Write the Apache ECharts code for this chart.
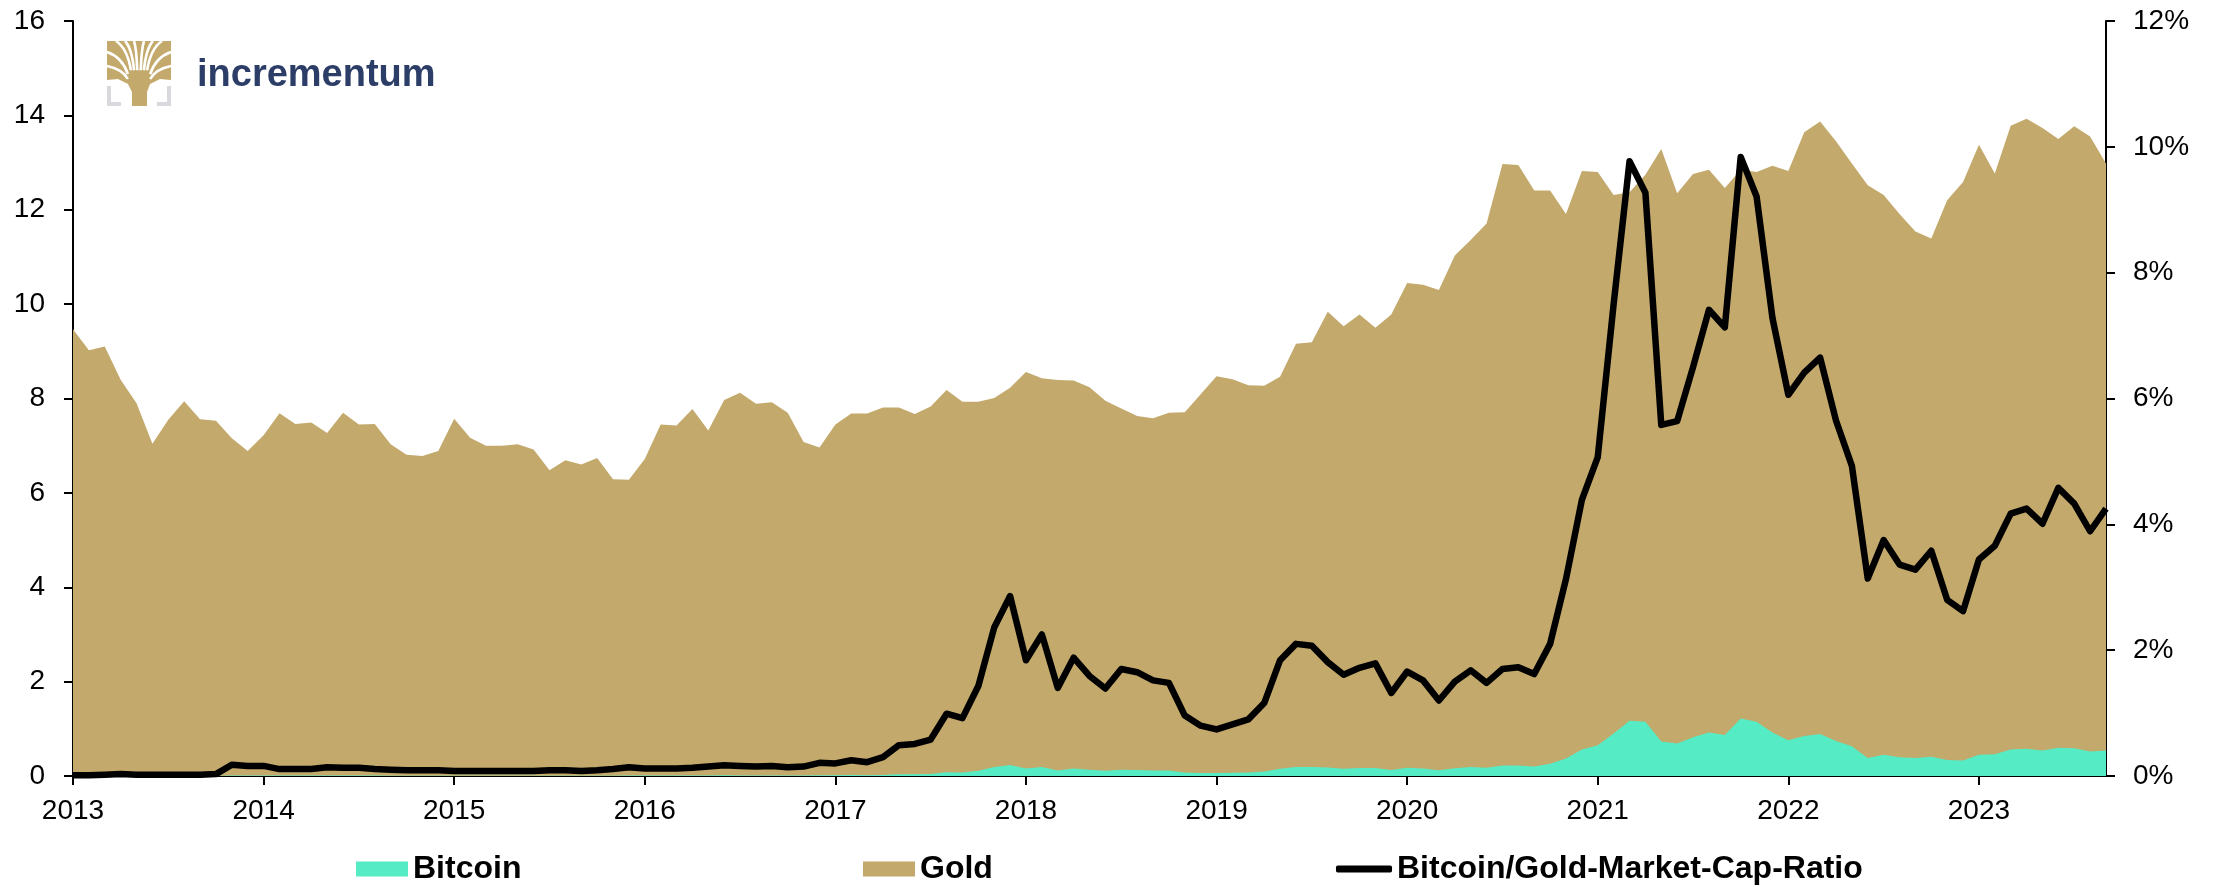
<!DOCTYPE html>
<html>
<head>
<meta charset="utf-8">
<script src="https://cdn.jsdelivr.net/npm/echarts@6/dist/echarts.min.js"></script>
<style>
  html, body { margin: 0; padding: 0; background: #fff; }
  #main { width: 2216px; height: 887px; }
</style>
</head>
<body>
<div id="main"></div>
<script>
// monthly, 2013-01 .. 2023-09
const firstYear = 2013;
const lastYear = 2023;
const lastMonth = 9;

// gold market cap, USD trn
const goldCap = [
  9.47, 9.02, 9.10, 8.40, 7.90, 7.04, 7.55, 7.94, 7.56, 7.53, 7.16, 6.89,
  7.22, 7.69, 7.46, 7.49, 7.27, 7.70, 7.45, 7.46, 7.03, 6.81, 6.78, 6.89,
  7.57, 7.17, 7.00, 7.00, 7.03, 6.92, 6.48, 6.69, 6.60, 6.74, 6.29, 6.28,
  6.72, 7.45, 7.43, 7.78, 7.32, 7.97, 8.12, 7.89, 7.92, 7.70, 7.08, 6.96,
  7.45, 7.68, 7.68, 7.81, 7.81, 7.67, 7.83, 8.18, 7.93, 7.93, 8.01, 8.23,
  8.56, 8.43, 8.39, 8.38, 8.24, 7.95, 7.79, 7.63, 7.58, 7.70, 7.71, 8.09,
  8.47, 8.41, 8.28, 8.27, 8.46, 9.16, 9.19, 9.84, 9.53, 9.78, 9.50, 9.78,
  10.45, 10.41, 10.30, 11.03, 11.36, 11.71, 12.97, 12.95, 12.41, 12.41, 11.91, 12.82,
  12.80, 12.31, 12.37, 12.74, 13.29, 12.35, 12.76, 12.85, 12.46, 12.85, 12.80, 12.93,
  12.82, 13.64, 13.87, 13.45, 12.98, 12.52, 12.31, 11.91, 11.54, 11.39, 12.20, 12.59,
  13.38, 12.77, 13.78, 13.93, 13.73, 13.50, 13.77, 13.55, 12.98
];

// bitcoin market cap, USD trn
const bitcoinCap = [
  0.001, 0.001, 0.002, 0.002, 0.001, 0.001, 0.001, 0.002, 0.002, 0.002, 0.013, 0.011,
  0.012, 0.008, 0.008, 0.008, 0.010, 0.010, 0.010, 0.008, 0.007, 0.006, 0.006, 0.006,
  0.006, 0.006, 0.006, 0.006, 0.006, 0.006, 0.006, 0.006, 0.005, 0.006, 0.007, 0.009,
  0.008, 0.009, 0.009, 0.010, 0.011, 0.014, 0.013, 0.012, 0.013, 0.011, 0.011, 0.015,
  0.015, 0.019, 0.017, 0.023, 0.038, 0.039, 0.045, 0.081, 0.073, 0.113, 0.189, 0.235,
  0.158, 0.190, 0.117, 0.158, 0.131, 0.111, 0.132, 0.126, 0.115, 0.114, 0.074, 0.065,
  0.063, 0.069, 0.075, 0.096, 0.156, 0.192, 0.190, 0.178, 0.153, 0.168, 0.170, 0.129,
  0.173, 0.158, 0.124, 0.165, 0.191, 0.173, 0.220, 0.224, 0.201, 0.261, 0.373, 0.563,
  0.65, 0.90, 1.17, 1.15, 0.73, 0.69, 0.82, 0.92, 0.87, 1.22, 1.15, 0.92,
  0.76, 0.85, 0.89, 0.74, 0.63, 0.38, 0.45, 0.40, 0.38, 0.41, 0.34, 0.33,
  0.45, 0.46, 0.56, 0.58, 0.54, 0.60, 0.59, 0.52, 0.54
];

// bitcoin / gold market cap ratio, %
const ratioPct = [
  0.01, 0.01, 0.02, 0.03, 0.02, 0.02, 0.02, 0.02, 0.02, 0.03, 0.18, 0.16,
  0.16, 0.11, 0.11, 0.11, 0.14, 0.13, 0.13, 0.11, 0.10, 0.09, 0.09, 0.09,
  0.08, 0.08, 0.08, 0.08, 0.08, 0.08, 0.09, 0.09, 0.08, 0.09, 0.11, 0.14,
  0.12, 0.12, 0.12, 0.13, 0.15, 0.17, 0.16, 0.15, 0.16, 0.14, 0.15, 0.21,
  0.20, 0.25, 0.22, 0.30, 0.49, 0.51, 0.58, 0.99, 0.92, 1.43, 2.36, 2.86,
  1.84, 2.25, 1.40, 1.88, 1.59, 1.39, 1.70, 1.65, 1.52, 1.48, 0.96, 0.80,
  0.74, 0.82, 0.90, 1.16, 1.84, 2.10, 2.07, 1.81, 1.61, 1.72, 1.79, 1.32,
  1.66, 1.52, 1.20, 1.50, 1.68, 1.48, 1.70, 1.73, 1.62, 2.10, 3.13, 4.39,
  5.07, 7.50, 9.77, 9.27, 5.58, 5.64, 6.50, 7.41, 7.13, 9.84, 9.21, 7.28,
  6.06, 6.41, 6.65, 5.65, 4.93, 3.14, 3.75, 3.36, 3.28, 3.58, 2.80, 2.62,
  3.44, 3.66, 4.17, 4.25, 4.01, 4.58, 4.33, 3.89, 4.25
];

const months = [];
for (let y = firstYear; y <= lastYear; y++) {
  for (let m = 1; m <= 12; m++) {
    if (y === lastYear && m > lastMonth) break;
    months.push(y + "-" + (m < 10 ? "0" + m : m));
  }
}

const GOLD = "#c3a96b";
const TEAL = "#55ebc5";
const FONT = "Liberation Sans, Arial, sans-serif";

const chart = echarts.init(document.getElementById("main"));

const axisLabelStyle = { color: "#000", fontSize: 28, fontFamily: FONT };
const legendText = { color: "#000", fontSize: 32, fontWeight: "bold", fontFamily: FONT };
const isJanuary = function (idx) { return idx % 12 === 0; };

// tree logo: gold crown with white gaps, trunk, grey brackets
const treeTop = [139, 86];
const gapEnds = [
  [107, 52], [107, 66], [116, 41], [125, 41], [134, 41],
  [144, 41], [153, 41], [162, 41], [171, 52], [171, 66]
];
const logo = [
  {
    type: "polygon",
    shape: {
      points: [[107, 41], [171, 41], [171, 80], [160, 79], [150, 84], [147, 92],
               [147, 106], [132, 106], [132, 92], [128, 84], [118, 79], [107, 80]]
    },
    style: { fill: GOLD },
    silent: true
  }
];
gapEnds.forEach(function (e) {
  const sx = treeTop[0] + (e[0] - treeTop[0]) * 0.35;
  const sy = treeTop[1] + (e[1] - treeTop[1]) * 0.35;
  logo.push({
    type: "bezierCurve",
    shape: {
      x1: sx, y1: sy, x2: e[0], y2: e[1],
      cpx1: sx + (e[0] - sx) * 0.25, cpy1: sy + (e[1] - sy) * 0.75
    },
    style: { stroke: "#fff", lineWidth: 2.6, fill: null },
    silent: true
  });
});
logo.push(
  {
    type: "polyline",
    shape: { points: [[109, 86], [109, 104], [121, 104]] },
    style: { stroke: "#d9d9dd", lineWidth: 4, fill: null },
    silent: true
  },
  {
    type: "polyline",
    shape: { points: [[169, 86], [169, 104], [157, 104]] },
    style: { stroke: "#d9d9dd", lineWidth: 4, fill: null },
    silent: true
  },
  {
    type: "text",
    style: {
      x: 197, y: 76, text: "incrementum",
      fill: "#2c3e67", fontSize: 38, fontWeight: "bold", fontFamily: FONT,
      verticalAlign: "middle"
    },
    silent: true
  }
);

const option = {
  animation: false,
  backgroundColor: "#fff",
  grid: { left: 73, right: 110, top: 21, bottom: 111, containLabel: false },
  legend: [
    {
      data: ["Bitcoin"], left: 356, top: 853, padding: 0,
      icon: "rect", itemWidth: 52, itemHeight: 15, textStyle: legendText
    },
    {
      data: ["Gold"], left: 863, top: 853, padding: 0,
      icon: "rect", itemWidth: 52, itemHeight: 15, textStyle: legendText
    },
    {
      data: ["Bitcoin/Gold-Market-Cap-Ratio"], left: 1336, top: 853, padding: 0,
      icon: "roundRect", itemWidth: 56, itemHeight: 7, textStyle: legendText
    }
  ],
  xAxis: {
    type: "category",
    data: months,
    boundaryGap: false,
    axisLine: { lineStyle: { color: "#000", width: 2 } },
    axisTick: { interval: isJanuary, length: 9, lineStyle: { color: "#000", width: 2 } },
    axisLabel: Object.assign({
      interval: isJanuary,
      margin: 21,
      formatter: function (v) { return v.slice(0, 4); }
    }, axisLabelStyle),
    splitLine: { show: false }
  },
  yAxis: [
    {
      type: "value",
      min: 0, max: 16, interval: 2,
      axisLine: { show: true, lineStyle: { color: "#000", width: 2 } },
      axisTick: { show: true, length: 9, lineStyle: { color: "#000", width: 2 } },
      axisLabel: Object.assign({ margin: 28 }, axisLabelStyle),
      splitLine: { show: false }
    },
    {
      type: "value",
      position: "right",
      min: 0, max: 12, interval: 2,
      axisLine: { show: true, lineStyle: { color: "#000", width: 2 } },
      axisTick: { show: true, length: 9, lineStyle: { color: "#000", width: 2 } },
      axisLabel: Object.assign({ margin: 27, formatter: "{value}%" }, axisLabelStyle),
      splitLine: { show: false }
    }
  ],
  graphic: logo,
  series: [
    {
      name: "Gold",
      type: "line",
      data: goldCap,
      symbol: "none",
      color: GOLD,
      lineStyle: { width: 0 },
      areaStyle: { color: GOLD, opacity: 1 },
      z: 1
    },
    {
      name: "Bitcoin",
      type: "line",
      data: bitcoinCap,
      symbol: "none",
      color: TEAL,
      lineStyle: { width: 0 },
      areaStyle: { color: TEAL, opacity: 1 },
      z: 2
    },
    {
      name: "Bitcoin/Gold-Market-Cap-Ratio",
      type: "line",
      yAxisIndex: 1,
      data: ratioPct,
      symbol: "none",
      color: "#000",
      lineStyle: { width: 6.5, color: "#000", join: "round" },
      z: 3
    }
  ]
};

chart.setOption(option);
</script>
</body>
</html>
